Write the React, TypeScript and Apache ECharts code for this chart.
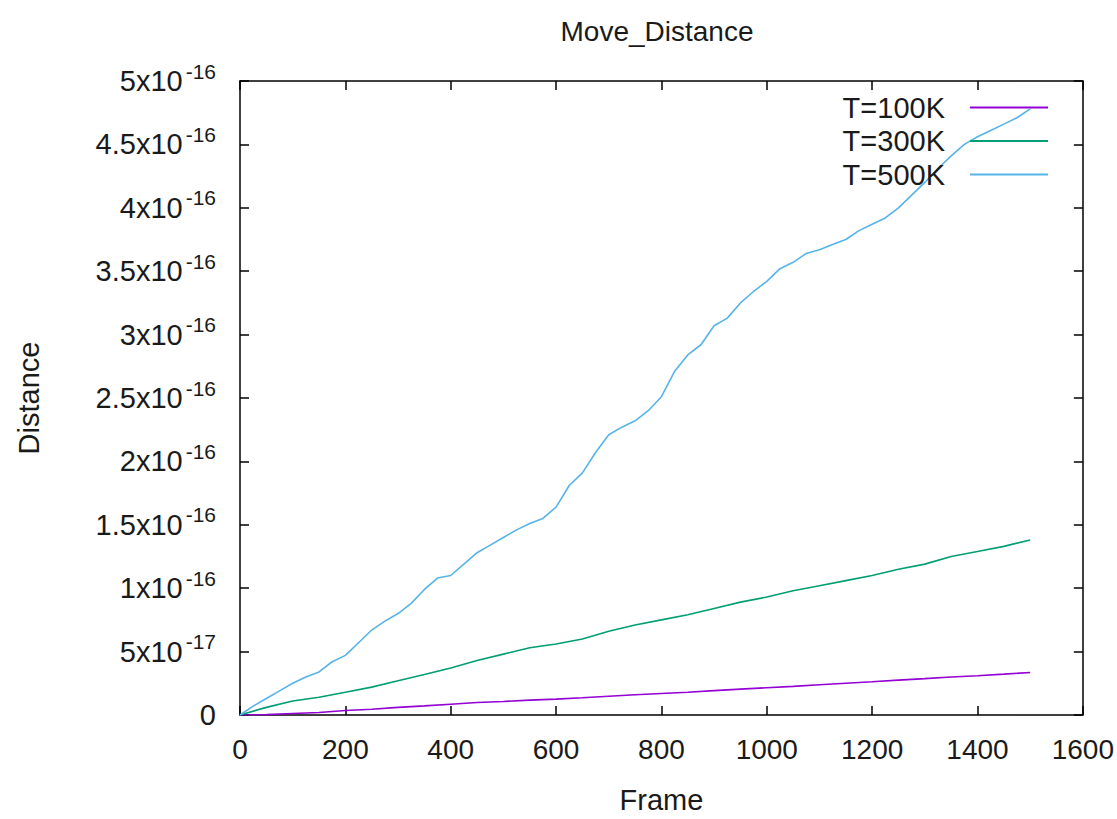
import React, { useEffect, useRef } from "react";
import * as echarts from "echarts";

// Frame numbers
const framesFine = [
  0, 25, 50, 75, 100, 125, 150, 175, 200, 225, 250, 275, 300, 325, 350, 375, 400, 425, 450, 475, 500,
  525, 550, 575, 600, 625, 650, 675, 700, 725, 750, 775, 800, 825, 850, 875, 900, 925, 950, 975, 1000,
  1025, 1050, 1075, 1100, 1125, 1150, 1175, 1200, 1225, 1250, 1275, 1300, 1325, 1350, 1375, 1400,
  1425, 1450, 1475, 1500,
];
const framesCoarse = [
  0, 50, 100, 150, 200, 250, 300, 350, 400, 450, 500, 550, 600, 650, 700, 750, 800, 850, 900, 950,
  1000, 1050, 1100, 1150, 1200, 1250, 1300, 1350, 1400, 1450, 1500,
];

// Distances in units of 1e-16
const t100K = [
  0, 0.003, 0.012, 0.02, 0.036, 0.045, 0.06, 0.072, 0.085, 0.098, 0.107, 0.117, 0.125, 0.136, 0.148,
  0.16, 0.17, 0.18, 0.192, 0.204, 0.215, 0.226, 0.238, 0.25, 0.262, 0.275, 0.287, 0.3, 0.31, 0.322,
  0.335,
];
const t300K = [
  0, 0.06, 0.11, 0.14, 0.18, 0.22, 0.27, 0.32, 0.37, 0.43, 0.48, 0.53, 0.56, 0.6, 0.66, 0.71, 0.75,
  0.79, 0.84, 0.89, 0.93, 0.98, 1.02, 1.06, 1.1, 1.15, 1.19, 1.25, 1.29, 1.33, 1.38,
];
const t500K = [
  0, 0.07, 0.13, 0.19, 0.25, 0.3, 0.34, 0.42, 0.47, 0.57, 0.67, 0.74, 0.8, 0.88, 0.99, 1.08, 1.1,
  1.19, 1.28, 1.34, 1.4, 1.46, 1.51, 1.55, 1.64, 1.81, 1.91, 2.07, 2.21, 2.27, 2.32, 2.4, 2.51, 2.71,
  2.84, 2.92, 3.07, 3.13, 3.25, 3.34, 3.42, 3.52, 3.57, 3.64, 3.67, 3.71, 3.75, 3.82, 3.87, 3.92, 4.0,
  4.1, 4.2, 4.31, 4.41, 4.5, 4.56, 4.61, 4.66, 4.71, 4.78,
];

const seriesNames = ["T=100K", "T=300K", "T=500K"];
const colors = ["#9400D3", "#009E73", "#56B4E9"];

const FONT = "Liberation Sans, Arial, sans-serif";
const TXT = "#1a1a1a";

export default function App() {
  const ref = useRef<HTMLDivElement>(null);
  useEffect(() => {
    if (!ref.current) return;
    const chart = echarts.init(ref.current, null, { renderer: "svg" });
    const tick = { show: true, inside: true, length: 9, lineStyle: { color: "#000", width: 1.5 } };
    const line = { show: true, onZero: false, lineStyle: { color: "#000", width: 1.5 } };
    const yFmt = (v: number) => {
      if (v === 0) return "{b|0}";
      if (v < 1) return "{b|5x10}{s|-17}";
      return `{b|${+v.toFixed(1)}x10}{s|-16}`;
    };
    chart.setOption({
      animation: false,
      backgroundColor: "#fff",
      textStyle: { fontFamily: FONT },
      title: {
        text: "Move_Distance",
        left: 652,
        top: 12,
        textAlign: "center",
        textStyle: { fontFamily: FONT, fontSize: 28, fontWeight: "normal", color: TXT },
      },
      legend: {
        orient: "vertical",
        right: 64,
        top: 88,
        align: "right",
        itemWidth: 78,
        itemHeight: 2,
        itemGap: 4.5,
        icon: "rect",
        textStyle: { fontFamily: FONT, fontSize: 29, color: TXT, padding: [0, 20, 0, 0] },
        data: seriesNames,
      },
      grid: { left: 240, right: 32, top: 81, bottom: 96, containLabel: false },
      xAxis: [
        {
          type: "value",
          min: 0,
          max: 1600,
          interval: 200,
          position: "bottom",
          name: "Frame",
          nameLocation: "middle",
          nameGap: 70,
          nameTextStyle: { fontFamily: FONT, fontSize: 29, color: TXT },
          axisLine: line,
          axisTick: tick,
          splitLine: { show: false },
          axisLabel: {
            fontFamily: FONT,
            fontSize: 28,
            color: TXT,
            margin: 20,
            formatter: (v: number) => String(v),
          },
        },
        {
          type: "value",
          min: 0,
          max: 1600,
          interval: 200,
          position: "top",
          axisLine: line,
          axisTick: tick,
          splitLine: { show: false },
          axisLabel: { show: false },
        },
      ],
      yAxis: [
        {
          type: "value",
          min: 0,
          max: 5,
          interval: 0.5,
          position: "left",
          name: "Distance",
          nameLocation: "middle",
          nameGap: 197,
          nameRotate: 90,
          nameTextStyle: { fontFamily: FONT, fontSize: 29, color: TXT },
          axisLine: line,
          axisTick: tick,
          splitLine: { show: false },
          axisLabel: {
            margin: 24,
            formatter: yFmt,
            rich: {
              b: { fontFamily: FONT, fontSize: 29, color: TXT },
              s: { fontFamily: FONT, fontSize: 21, color: TXT, padding: [0, 0, 20, 3] },
            },
          },
        },
        {
          type: "value",
          min: 0,
          max: 5,
          interval: 0.5,
          position: "right",
          axisLine: line,
          axisTick: tick,
          splitLine: { show: false },
          axisLabel: { show: false },
        },
      ],
      series: [
        {
          name: seriesNames[0],
          type: "line",
          data: framesCoarse.map((f, i) => [f, t100K[i]]),
          showSymbol: false,
          symbol: "none",
          lineStyle: { color: colors[0], width: 1.6 },
          itemStyle: { color: colors[0] },
        },
        {
          name: seriesNames[1],
          type: "line",
          data: framesCoarse.map((f, i) => [f, t300K[i]]),
          showSymbol: false,
          symbol: "none",
          lineStyle: { color: colors[1], width: 1.6 },
          itemStyle: { color: colors[1] },
        },
        {
          name: seriesNames[2],
          type: "line",
          data: framesFine.map((f, i) => [f, t500K[i]]),
          showSymbol: false,
          symbol: "none",
          lineStyle: { color: colors[2], width: 1.6 },
          itemStyle: { color: colors[2] },
        },
      ],
    });
    return () => chart.dispose();
  }, []);
  return (
    <div
      ref={ref}
      style={{ position: "fixed", left: 0, top: 0, width: 1117, height: 819, background: "#fff" }}
    />
  );
}
